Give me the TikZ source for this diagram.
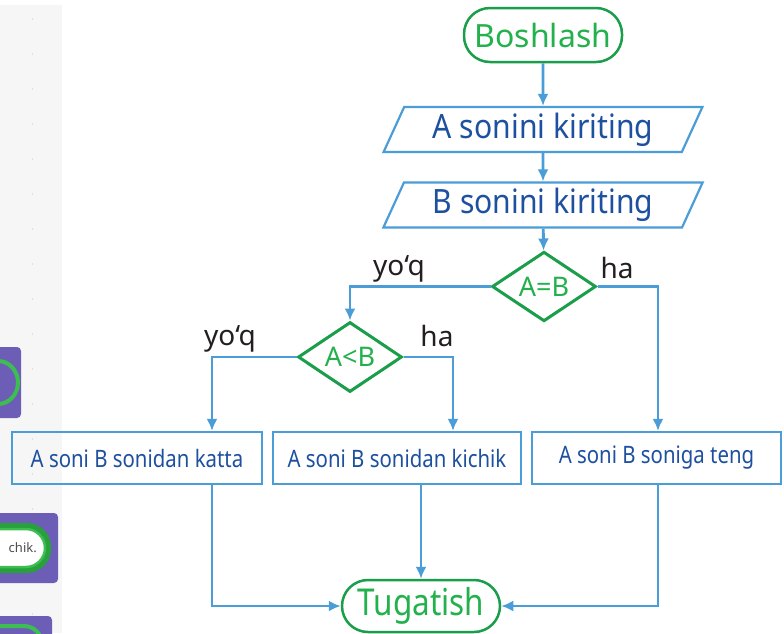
\documentclass[tikz,border=0pt]{standalone}
\usepackage{fontspec}
\setmainfont{Noto Sans}
\newfontfamily\narrowfont[FakeStretch=0.85]{Noto Sans}
\newfontfamily\semifont[FakeStretch=0.9]{Noto Sans}
\usetikzlibrary{arrows.meta,shapes.geometric}

\definecolor{flowgreen}{RGB}{26,158,74}
\definecolor{textgreen}{RGB}{34,177,76}
\definecolor{flowblue}{RGB}{75,157,216}
\definecolor{textblue}{RGB}{30,80,160}
\definecolor{labelgrey}{RGB}{35,31,32}
\definecolor{panelgrey}{RGB}{246,246,246}
\definecolor{blockpurple}{RGB}{108,94,182}
\definecolor{blockgreen}{RGB}{60,190,80}
\definecolor{blockgreendark}{RGB}{40,160,60}

\newcommand{\fsz}[1]{\fontsize{#1}{#1}\selectfont}

\begin{document}
\begin{tikzpicture}[x=1pt,y=-1pt,
  terminal/.style={draw=flowgreen, line width=2.5pt, rounded corners=26pt,
    minimum width=158pt, minimum height=54pt, inner sep=0pt,
    text=textgreen, font=\fsz{32}},
  iobox/.style={trapezium, trapezium left angle=64, trapezium right angle=116,
    trapezium stretches=true, draw=flowblue, line width=2.2pt,
    minimum width=320pt, minimum height=45pt, inner sep=0pt,
    text=textblue, font=\semifont\fsz{33.5}},
  decision/.style={diamond, draw=flowgreen, line width=3pt, inner sep=0pt,
    minimum width=104pt, text=textgreen, font=\fsz{27}},
  process/.style={draw=flowblue, line width=2.2pt, minimum height=52pt,
    inner sep=0pt, text=textblue, font=\narrowfont\fsz{24}},
  branch/.style={text=labelgrey, font=\fsz{28}, inner sep=0pt},
  arr/.style={draw=flowblue, line width=2.8pt,
    -{Latex[length=12pt,width=11pt]}},
]
\useasboundingbox (0,0) rectangle (784,633);
\fill[white] (0,0) rectangle (784,633);

% side panel of the editor at the left edge
\fill[panelgrey] (0,5) rectangle (62,633);
\foreach \yy in {18,53,88,123,158,193,228,263,298,333,368,403,438,473,508,543,578,613}
  \fill[black!12] (31.5,\yy) rectangle (32.5,\yy+1.5);
% program blocks, partly hidden behind the panel edge
\fill[blockpurple, rounded corners=4pt] (-8,347) rectangle (21,418);
\draw[blockgreen, line width=4pt] (-12,361) -- (-2,361) arc[start angle=-90,end angle=90,x radius=20pt,y radius=-21.5pt] -- (-12,404);
\fill[blockpurple, rounded corners=4pt] (-8,513) rectangle (58,583);
\draw[blockgreendark, line width=6pt, fill=white, rounded corners=21pt] (-30,526) rectangle (48,570);
\draw[blockgreen, line width=2.5pt, rounded corners=19pt] (-27,529) rectangle (45,567);
\node[text=labelgrey!80, font=\fsz{13}, anchor=east, inner sep=0pt] (chik) at (37,548) {chik.};
\fill[blockpurple, rounded corners=4pt] (-8,616) rectangle (52,645);
\draw[blockgreen, line width=4pt, rounded corners=18pt] (-30,626) rectangle (42,670);

% flowchart
\node[terminal] (start) at (543,35) {Boshlash};
\node[iobox] (inA) at (543,129.5) {A sonini kiriting};
\node[iobox] (inB) at (543,205) {B sonini kiriting};
\node[decision, minimum height=67pt] (eq) at (544,286.5) {A=B};
\node[decision, minimum height=70pt] (lt) at (350,357) {A<B};
\node[process, minimum width=250pt] (r1) at (137,458) {A soni B sonidan katta};
\node[process, minimum width=248pt] (r2) at (397,458) {A soni B sonidan kichik};
\node[process, minimum width=249pt] (r3) at (656.5,458) {A soni B soniga teng};
\node[terminal, minimum height=52pt, font=\narrowfont\fsz{37}] (stop) at (421,606) {Tugatish};

\node[branch] (noEq) at (399,269) {yo‘q};
\node[branch] (yesEq) at (617,268) {ha};
\node[branch] (noLt) at (230,339) {yo‘q};
\node[branch] (yesLt) at (437,336) {ha};

\draw[arr] (start) -- (inA);
\draw[arr] (inA) -- (inB);
\draw[arr] (inB) -- (eq);
\draw[arr] (eq.west) -| (lt.north);
\draw[arr] (eq.east) -| ([xshift=1.5pt]r3.north);
\draw[arr] (lt.west) -| ([xshift=75pt]r1.north);
\draw[arr] (lt.east) -| ([xshift=56pt]r2.north);
\draw[arr] ([xshift=75pt]r1.south) |- (stop.west);
\draw[arr] (stop.north |- r2.south) -- (stop.north);
\draw[arr] ([xshift=1.5pt]r3.south) |- (stop.east);
\end{tikzpicture}
\end{document}
